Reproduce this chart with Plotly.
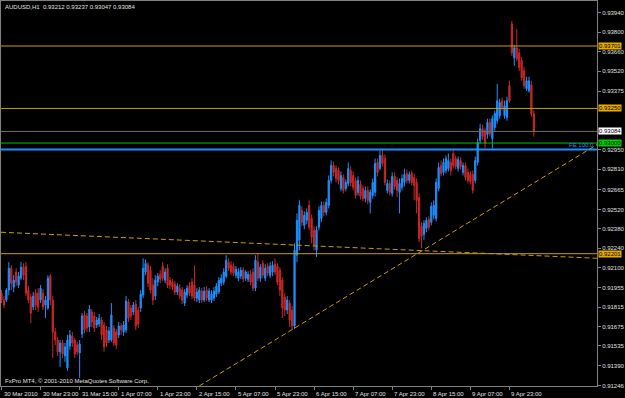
import plotly.graph_objects as go

# ---------------- data (AUDUSD H1) ----------------
bar_open = [0.91916,0.91866,0.91866,0.91938,0.92096,0.91960,0.92068,0.91974,0.92024,0.92104,
0.92111,0.91938,0.91888,0.91816,0.91916,0.91916,0.91866,0.91916,0.91830,0.91808,
0.92039,0.91866,0.91636,0.91578,0.91492,0.91556,0.91463,0.91376,0.91535,0.91607,
0.91578,0.91542,0.91484,0.91621,0.91758,0.91751,0.91672,0.91780,0.91751,0.91686,
0.91693,0.91722,0.91686,0.91650,0.91578,0.91578,0.91664,0.91636,0.91614,0.91679,
0.91636,0.91650,0.91852,0.91808,0.91780,0.91837,0.91794,0.91808,0.91902,0.92068,
0.92118,0.92082,0.91974,0.91895,0.91996,0.92053,0.92111,0.92010,0.92096,0.92010,
0.91996,0.91981,0.91924,0.91952,0.91938,0.91844,0.91902,0.91967,0.91996,0.91974,
0.91880,0.91866,0.91931,0.91866,0.91938,0.91866,0.91866,0.91880,0.91909,0.91924,
0.91988,0.91996,0.92039,0.92140,0.92118,0.92111,0.92046,0.92024,0.92039,0.92082,
0.92024,0.92017,0.92053,0.92068,0.91952,0.92140,0.92024,0.92132,0.92024,0.92111,
0.92046,0.92068,0.92125,0.92111,0.92082,0.92010,0.91888,0.91794,0.91844,0.91794,
0.91679,0.92190,0.92298,0.92514,0.92406,0.92442,0.92550,0.92456,0.92370,0.92226,
0.92392,0.92456,0.92550,0.92500,0.92550,0.92730,0.92838,0.92816,0.92802,0.92672,
0.92752,0.92672,0.92708,0.92802,0.92766,0.92730,0.92644,0.92701,0.92672,0.92600,
0.92658,0.92572,0.92622,0.92644,0.92860,0.92816,0.92910,0.92888,0.92658,0.92708,
0.92636,0.92759,0.92730,0.92644,0.92680,0.92716,0.92780,0.92730,0.92780,0.92752,
0.92716,0.92608,0.92399,0.92341,0.92384,0.92449,0.92428,0.92478,0.92456,0.92672,
0.92838,0.92788,0.92802,0.92816,0.92860,0.92924,0.92888,0.92816,0.92874,0.92788,
0.92838,0.92788,0.92773,0.92773,0.92730,0.92860,0.93018,0.93104,0.93090,0.93061,
0.93148,0.93032,0.93112,0.93162,0.93198,0.93306,0.93198,0.93184,0.93414,0.93860,
0.93616,0.93688,0.93652,0.93594,0.93522,0.93392,0.93378,0.93421,0.93212]

bar_high = [0.91938,0.91895,0.91952,0.92140,0.92118,0.92046,0.92096,0.92068,0.92140,0.92132,
0.92140,0.91967,0.91909,0.91924,0.91945,0.91952,0.91974,0.91945,0.91895,0.92046,
0.92053,0.91895,0.91664,0.91600,0.91578,0.91578,0.91556,0.91614,0.91650,0.91636,
0.91592,0.91564,0.91578,0.91772,0.91787,0.91772,0.91830,0.91801,0.91780,0.91744,
0.91765,0.91744,0.91708,0.91679,0.91672,0.91844,0.91686,0.91657,0.91708,0.91700,
0.91715,0.91895,0.91873,0.91830,0.91852,0.91866,0.91816,0.91938,0.92168,0.92161,
0.92140,0.92111,0.92024,0.92046,0.92060,0.92082,0.92140,0.92096,0.92125,0.92032,
0.92017,0.92003,0.91988,0.91981,0.91960,0.91945,0.91974,0.91996,0.92024,0.92118,
0.91952,0.91960,0.91952,0.91960,0.91967,0.91952,0.91938,0.91960,0.91988,0.92032,
0.92053,0.92096,0.92190,0.92168,0.92147,0.92132,0.92111,0.92096,0.92104,0.92104,
0.92082,0.92075,0.92082,0.92096,0.92190,0.92204,0.92125,0.92154,0.92125,0.92132,
0.92140,0.92147,0.92168,0.92132,0.92104,0.92032,0.91916,0.91895,0.91866,0.91823,
0.92276,0.92492,0.92586,0.92543,0.92507,0.92528,0.92586,0.92485,0.92399,0.92399,
0.92543,0.92579,0.92579,0.92600,0.92766,0.92874,0.92867,0.92838,0.92824,0.92795,
0.92773,0.92737,0.92860,0.92831,0.92795,0.92752,0.92759,0.92730,0.92694,0.92687,
0.92687,0.92665,0.92744,0.92888,0.92888,0.92946,0.92960,0.92917,0.92737,0.92730,
0.92788,0.92788,0.92752,0.92744,0.92773,0.92816,0.92809,0.92795,0.92802,0.92780,
0.92744,0.92636,0.92428,0.92442,0.92464,0.92471,0.92572,0.92586,0.92744,0.92860,
0.92874,0.92888,0.92910,0.92924,0.92888,0.92946,0.92910,0.92903,0.92896,0.92860,
0.92860,0.92816,0.92795,0.92802,0.92903,0.93032,0.93140,0.93133,0.93112,0.93176,
0.93176,0.93198,0.93234,0.93428,0.93320,0.93328,0.93306,0.93335,0.93450,0.93882,
0.93709,0.93824,0.93680,0.93623,0.93551,0.93479,0.93479,0.93450,0.93237]

bar_low = [0.91844,0.91808,0.91852,0.91902,0.91938,0.91924,0.91967,0.91952,0.92010,0.92010,
0.91895,0.91844,0.91700,0.91794,0.91794,0.91780,0.91844,0.91794,0.91736,0.91794,
0.91830,0.91448,0.91542,0.91463,0.91384,0.91448,0.91420,0.91355,0.91506,0.91528,
0.91448,0.91470,0.91304,0.91592,0.91628,0.91636,0.91636,0.91672,0.91636,0.91664,
0.91672,0.91578,0.91492,0.91528,0.91556,0.91564,0.91535,0.91513,0.91592,0.91614,
0.91607,0.91628,0.91708,0.91722,0.91758,0.91650,0.91664,0.91780,0.91880,0.92046,
0.91960,0.91916,0.91830,0.91866,0.91967,0.91988,0.92003,0.91988,0.91952,0.91945,
0.91938,0.91902,0.91902,0.91873,0.91837,0.91823,0.91880,0.91895,0.91873,0.91859,
0.91852,0.91844,0.91844,0.91852,0.91859,0.91852,0.91844,0.91859,0.91888,0.91909,
0.91967,0.91974,0.92024,0.92075,0.92046,0.92039,0.92024,0.92003,0.92017,0.91996,
0.92003,0.91996,0.91974,0.91931,0.91931,0.92003,0.91996,0.92024,0.92003,0.92039,
0.92024,0.92039,0.92046,0.91974,0.91895,0.91736,0.91751,0.91765,0.91672,0.91650,
0.91657,0.92140,0.92226,0.92399,0.92377,0.92413,0.92370,0.92276,0.92226,0.92176,
0.92370,0.92428,0.92471,0.92478,0.92528,0.92708,0.92759,0.92716,0.92701,0.92651,
0.92636,0.92651,0.92687,0.92687,0.92658,0.92600,0.92622,0.92593,0.92579,0.92572,
0.92557,0.92492,0.92600,0.92615,0.92759,0.92802,0.92831,0.92694,0.92636,0.92622,
0.92615,0.92665,0.92608,0.92492,0.92658,0.92687,0.92708,0.92708,0.92694,0.92586,
0.92492,0.92284,0.92240,0.92298,0.92356,0.92370,0.92406,0.92449,0.92435,0.92651,
0.92759,0.92766,0.92780,0.92795,0.92766,0.92816,0.92809,0.92795,0.92809,0.92766,
0.92730,0.92708,0.92701,0.92636,0.92708,0.92838,0.92996,0.93025,0.92960,0.93032,
0.93047,0.92960,0.93090,0.93140,0.93176,0.93234,0.93176,0.93162,0.93292,0.93630,
0.93558,0.93594,0.93522,0.93450,0.93392,0.93378,0.93364,0.93191,0.93047]

bar_close = [0.91866,0.91830,0.91938,0.92096,0.91988,0.92010,0.91996,0.92039,0.92104,0.92046,
0.91916,0.91866,0.91772,0.91895,0.91830,0.91816,0.91952,0.91816,0.91866,0.92024,
0.91866,0.91636,0.91578,0.91492,0.91556,0.91477,0.91528,0.91578,0.91614,0.91556,
0.91477,0.91492,0.91549,0.91751,0.91650,0.91664,0.91801,0.91708,0.91664,0.91722,
0.91736,0.91614,0.91528,0.91556,0.91643,0.91758,0.91556,0.91542,0.91679,0.91650,
0.91686,0.91859,0.91736,0.91751,0.91830,0.91679,0.91693,0.91909,0.92096,0.92132,
0.91988,0.91938,0.91866,0.92010,0.92039,0.92017,0.92024,0.92068,0.91974,0.91974,
0.91960,0.91924,0.91967,0.91895,0.91866,0.91924,0.91952,0.91916,0.91895,0.91880,
0.91924,0.91938,0.91866,0.91931,0.91880,0.91931,0.91909,0.91931,0.91967,0.92010,
0.92024,0.92068,0.92154,0.92096,0.92068,0.92060,0.92089,0.92068,0.92082,0.92017,
0.92068,0.92053,0.91996,0.91952,0.92154,0.92024,0.92104,0.92046,0.92096,0.92060,
0.92111,0.92118,0.92068,0.91996,0.91938,0.91808,0.91794,0.91866,0.91722,0.91679,
0.92226,0.92442,0.92550,0.92428,0.92478,0.92500,0.92392,0.92320,0.92262,0.92370,
0.92514,0.92550,0.92500,0.92572,0.92730,0.92838,0.92788,0.92744,0.92730,0.92766,
0.92658,0.92716,0.92816,0.92716,0.92680,0.92622,0.92730,0.92615,0.92600,0.92658,
0.92586,0.92644,0.92716,0.92852,0.92788,0.92910,0.92852,0.92716,0.92708,0.92644,
0.92759,0.92687,0.92658,0.92708,0.92744,0.92773,0.92730,0.92773,0.92716,0.92694,
0.92586,0.92312,0.92327,0.92420,0.92442,0.92392,0.92543,0.92550,0.92716,0.92824,
0.92780,0.92860,0.92888,0.92874,0.92802,0.92838,0.92831,0.92881,0.92831,0.92838,
0.92752,0.92730,0.92723,0.92658,0.92874,0.93004,0.93104,0.93047,0.92996,0.93148,
0.93068,0.93176,0.93212,0.93306,0.93292,0.93256,0.93270,0.93306,0.93306,0.93652,
0.93688,0.93608,0.93544,0.93472,0.93414,0.93450,0.93450,0.93212,0.93084]

bar_index = list(range(len(bar_close)))

time_tick_bars = [0, 16, 32, 48, 64, 80, 96, 112, 128, 144, 160, 176, 192, 208]
time_tick_labels = ["30 Mar 2010", "30 Mar 23:00", "31 Mar 15:00", "1 Apr 07:00",
                    "1 Apr 23:00", "2 Apr 15:00", "5 Apr 07:00", "5 Apr 23:00",
                    "6 Apr 15:00", "7 Apr 07:00", "7 Apr 23:00", "8 Apr 15:00",
                    "9 Apr 07:00", "9 Apr 23:00"]

# scale labels visible beside the price boxes (those hidden under boxes left out)
price_ticks = [0.93940, 0.93800, 0.93660, 0.93520, 0.93375, 0.92950,
               0.92810, 0.92665, 0.92520, 0.92380, 0.92240, 0.92100, 0.91955, 0.91815,
               0.91675, 0.91535, 0.91390, 0.91246]

gold_levels = [0.93701, 0.93250, 0.92201]
bid_level = 0.93084
green_level = 0.93000
fe_level = 0.92953

trend_a_bars = [-0.2, 243.9]
trend_a_prices = [0.92356, 0.92168]
trend_b_bars = [81.0, 243.9]
trend_b_prices = [0.91246, 0.92989]

x_range = [-0.203, 243.86]
y_range = [0.912455, 0.94026]

# ---------------- styling ----------------
FONT = "Liberation Sans"
GOLD = "#C8A000"
BLUE = "#1E90FF"
RED = "#C82828"
GREEN = "#00C000"
AXIS = "#808080"
TXT = "#E0E0E0"

fig = go.Figure()
fig.add_trace(go.Candlestick(
    x=bar_index, open=bar_open, high=bar_high, low=bar_low, close=bar_close,
    increasing=dict(line=dict(color=BLUE, width=1), fillcolor=BLUE),
    decreasing=dict(line=dict(color=RED, width=1), fillcolor=RED),
    whiskerwidth=0, hoverinfo="skip", showlegend=False))

shapes = []
for lv in gold_levels:
    shapes.append(dict(type="line", xref="paper", x0=0, x1=1, yref="y", y0=lv, y1=lv,
                       line=dict(color=GOLD, width=1)))
shapes.append(dict(type="line", xref="paper", x0=0, x1=1, yref="y", y0=bid_level, y1=bid_level,
                   line=dict(color="#6E6E6E", width=1)))
shapes.append(dict(type="line", xref="paper", x0=0, x1=1, yref="y", y0=green_level, y1=green_level,
                   line=dict(color=GREEN, width=1)))
shapes.append(dict(type="line", xref="paper", x0=0, x1=1, yref="y", y0=fe_level, y1=fe_level,
                   line=dict(color=BLUE, width=2)))
for bx, py in ((trend_a_bars, trend_a_prices), (trend_b_bars, trend_b_prices)):
    shapes.append(dict(type="line", xref="x", yref="y", x0=bx[0], x1=bx[1], y0=py[0], y1=py[1],
                       line=dict(color="#C8A000", width=1, dash="5px,3px")))

annotations = []
small = dict(family=FONT, size=6, color="#000000")
for lv in gold_levels:
    annotations.append(dict(xref="paper", x=1, xanchor="left", xshift=1, yref="y", y=lv,
                            text=f"{lv:.5f}", showarrow=False, font=small, bgcolor="#E8AC00",
                            borderpad=0))
annotations.append(dict(xref="paper", x=1, xanchor="left", xshift=1, yref="y", y=bid_level,
                        text=f"{bid_level:.5f}", showarrow=False, font=small, bgcolor="#FFFFFF",
                        borderpad=0))
annotations.append(dict(xref="paper", x=1, xanchor="left", xshift=1, yref="y", y=green_level,
                        text=f"{green_level:.5f}", showarrow=False, font=small, bgcolor="#00D000",
                        borderpad=0))
annotations.append(dict(xref="paper", x=1, xanchor="right", xshift=-1, yref="y", y=fe_level,
                        yanchor="bottom", yshift=0, text="FE 100.0", showarrow=False,
                        font=dict(family=FONT, size=6, color=BLUE)))
for b, lab in zip(time_tick_bars, time_tick_labels):
    annotations.append(dict(xref="x", x=b, xanchor="left", xshift=0, yref="paper", y=0,
                            yanchor="top", yshift=-3, text=lab, showarrow=False,
                            font=dict(family=FONT, size=6, color=TXT)))
annotations.append(dict(xref="paper", x=0, xanchor="left", xshift=2, yref="paper", y=1,
                        yanchor="top", yshift=-1,
                        text="AUDUSD,H1  0.93212 0.93237 0.93047 0.93084", showarrow=False,
                        font=dict(family=FONT, size=6, color=TXT)))
annotations.append(dict(xref="paper", x=0, xanchor="left", xshift=2, yref="paper", y=0,
                        yanchor="bottom", yshift=0,
                        text="FxPro MT4, \u00a9 2001-2010 MetaQuotes Software Corp.", showarrow=False,
                        font=dict(family=FONT, size=6, color=TXT)))

fig.update_layout(
    width=625, height=398,
    margin=dict(l=0, r=24, t=0, b=12, pad=0),
    paper_bgcolor="#000000", plot_bgcolor="#000000",
    showlegend=False,
    shapes=shapes, annotations=annotations,
    xaxis=dict(range=x_range, showgrid=False, zeroline=False, showline=True, linecolor=AXIS,
               linewidth=1, mirror=True, ticks="outside", ticklen=3, tickcolor=AXIS,
               tickvals=time_tick_bars, showticklabels=False, fixedrange=True,
               rangeslider=dict(visible=False)),
    yaxis=dict(range=y_range, side="right", showgrid=False, zeroline=False, showline=True,
               linecolor=AXIS, linewidth=1, mirror=True, ticks="outside", ticklen=3,
               tickcolor=AXIS, tickvals=price_ticks, ticktext=[f"{p:.5f}" for p in price_ticks],
               tickfont=dict(family=FONT, size=6, color=TXT), fixedrange=True),
)

fig.write_html("out.html", config={"displayModeBar": False})
